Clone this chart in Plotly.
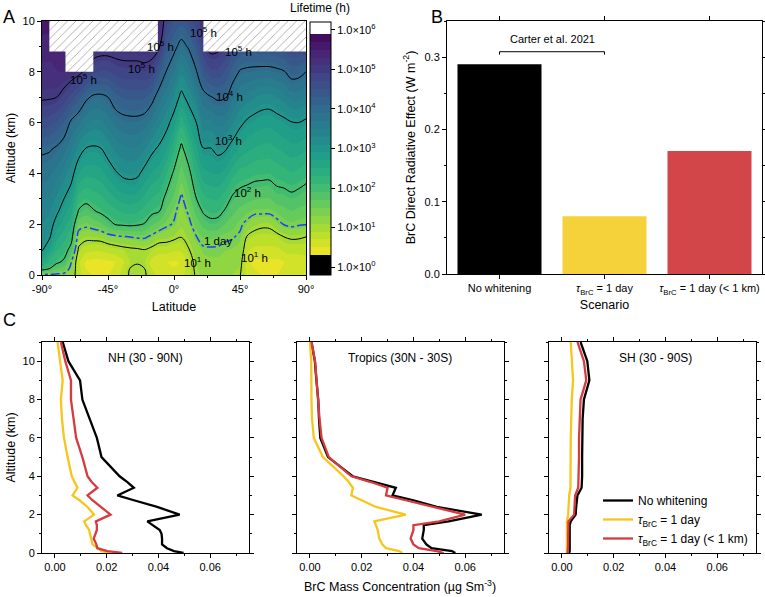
import numpy as np
import plotly.graph_objects as go

# ---------------- Panel A data: log10(lifetime, h) on a latitude/altitude grid ----------------
lat_a = [-90, -85, -80, -75, -70, -65, -60, -55, -50, -45, -40, -35, -30, -25, -20, -15, -10, -5,
         0, 5, 10, 15, 20, 25, 30, 35, 40, 45, 50, 55, 60, 65, 70, 75, 80, 85, 90]
alt_a = [0, 0.25, 0.5, 1, 1.5, 2, 2.5, 3, 4, 5, 6, 7, 8, 9, 10]
# one list per latitude column (values at alt_a)
log_lifetime_cols = [
    [1.3, 2.19, 2.56, 3.05, 3.17, 3.30, 3.42, 3.54, 3.79, 4.08, 4.62, 5.05, 5.24, 5.42, 5.6],   # -90
    [1.3, 2.0, 2.24, 2.71, 3.06, 3.19, 3.33, 3.47, 3.75, 4.05, 4.58, 5.04, 5.22, 5.41, 5.6],    # -85
    [1.3, 1.73, 2.06, 2.32, 2.58, 2.84, 3.07, 3.25, 3.61, 3.96, 4.47, 5.0, 5.28, 5.5, 5.6],     # -80
    [1.3, 1.59, 1.93, 2.18, 2.39, 2.59, 2.8, 3.0, 3.4, 3.8, 4.28, 4.83, 5.3, 5.5, 5.6],         # -75
    [1.2, 1.29, 1.38, 1.86, 2.14, 2.35, 2.55, 2.76, 3.15, 3.54, 3.92, 4.62, 5.2, 5.4, 5.5],     # -70
    [0.8, 0.77, 0.75, 0.94, 1.2, 1.55, 1.96, 2.22, 2.71, 3.21, 3.74, 4.38, 5.1, 5.3, 5.4],      # -65
    [0.55, 0.5, 0.45, 0.8, 1.09, 1.47, 1.82, 2.11, 2.56, 3.0, 3.53, 4.08, 4.92, 5.35, 5.5],     # -60
    [0.5, 0.45, 0.42, 0.75, 1.11, 1.55, 1.96, 2.18, 2.57, 2.96, 3.44, 3.93, 4.74, 5.25, 5.4],   # -55
    [0.5, 0.46, 0.42, 0.75, 1.13, 1.66, 2.06, 2.25, 2.62, 3.0, 3.45, 3.91, 4.67, 5.2, 5.4],     # -50
    [0.5, 0.47, 0.45, 0.8, 1.24, 1.87, 2.16, 2.37, 2.78, 3.18, 3.59, 4.0, 4.67, 5.2, 5.4],      # -45
    [0.55, 0.52, 0.5, 0.85, 1.3, 2.02, 2.26, 2.49, 2.95, 3.36, 3.76, 4.22, 4.78, 5.2, 5.4],     # -40
    [0.8, 0.72, 0.65, 0.9, 1.35, 2.06, 2.32, 2.58, 3.08, 3.46, 3.85, 4.32, 4.84, 5.2, 5.4],     # -35
    [1.05, 1.01, 0.9, 0.94, 1.38, 2.09, 2.35, 2.62, 3.12, 3.5, 3.88, 4.35, 4.85, 5.2, 5.4],     # -30
    [1.1, 1.05, 0.98, 0.96, 1.42, 2.05, 2.32, 2.58, 3.08, 3.48, 3.88, 4.35, 4.85, 5.2, 5.4],    # -25
    [1.05, 1.0, 0.91, 1.0, 1.43, 1.98, 2.21, 2.43, 2.87, 3.33, 3.81, 4.33, 4.89, 5.2, 5.4],     # -20
    [0.8, 0.7, 0.6, 0.91, 1.3, 1.73, 2.08, 2.28, 2.68, 3.1, 3.6, 4.13, 4.8, 5.2, 5.3],          # -15
    [0.6, 0.55, 0.5, 0.81, 1.17, 1.59, 2.0, 2.19, 2.57, 2.94, 3.36, 3.79, 4.36, 5.03, 5.3],     # -10
    [0.6, 0.55, 0.5, 0.81, 1.14, 1.44, 1.66, 1.87, 2.29, 2.71, 3.13, 3.55, 3.97, 4.39, 4.8],    # -5
    [0.55, 0.51, 0.47, 0.74, 1.08, 1.35, 1.45, 1.65, 1.93, 2.35, 2.81, 3.26, 3.7, 4.12, 4.5],   # 0
    [0.6, 0.56, 0.52, 0.74, 1.01, 1.14, 1.22, 1.32, 1.61, 1.92, 2.38, 2.88, 3.37, 3.85, 4.4],   # 5
    [0.85, 0.82, 0.8, 0.98, 1.13, 1.28, 1.43, 1.58, 1.88, 2.26, 2.7, 3.14, 3.59, 4.05, 4.6],    # 10
    [1.03, 1.07, 1.11, 1.2, 1.36, 1.57, 1.77, 1.98, 2.32, 2.65, 2.98, 3.44, 3.95, 4.38, 4.8],   # 15
    [1.15, 1.2, 1.24, 1.33, 1.51, 1.78, 2.04, 2.23, 2.62, 3.0, 3.43, 3.85, 4.4, 4.9, 5.0],      # 20
    [1.2, 1.23, 1.27, 1.34, 1.53, 1.89, 2.13, 2.31, 2.69, 3.0, 3.45, 3.98, 4.63, 5.15, 5.2],    # 25
    [1.2, 1.23, 1.27, 1.34, 1.5, 1.86, 2.12, 2.31, 2.71, 3.12, 3.58, 4.06, 4.65, 5.1, 5.15],    # 30
    [1.15, 1.19, 1.23, 1.31, 1.43, 1.69, 1.95, 2.17, 2.61, 3.05, 3.54, 4.03, 4.49, 4.9, 5.0],   # 35
    [1.1, 1.15, 1.2, 1.29, 1.4, 1.58, 1.75, 1.93, 2.38, 2.86, 3.3, 3.74, 4.2, 4.65, 4.7],       # 40
    [1.02, 1.08, 1.14, 1.25, 1.33, 1.44, 1.63, 1.83, 2.23, 2.66, 3.09, 3.52, 3.96, 4.5, 4.6],   # 45
    [0.6, 0.58, 0.55, 0.75, 0.96, 1.28, 1.54, 1.77, 2.19, 2.56, 2.93, 3.41, 3.91, 4.45, 4.5],   # 50
    [0.55, 0.5, 0.45, 0.65, 0.86, 1.14, 1.45, 1.72, 2.13, 2.49, 2.84, 3.31, 3.89, 4.45, 4.5],   # 55
    [0.5, 0.47, 0.45, 0.65, 0.84, 1.07, 1.46, 1.69, 2.12, 2.45, 2.78, 3.23, 3.87, 4.5, 4.55],   # 60
    [0.5, 0.47, 0.45, 0.65, 0.84, 1.08, 1.45, 1.69, 2.11, 2.44, 2.77, 3.21, 3.87, 4.5, 4.55],   # 65
    [0.5, 0.47, 0.45, 0.65, 0.88, 1.26, 1.53, 1.83, 2.17, 2.5, 2.83, 3.3, 3.91, 4.55, 4.6],     # 70
    [0.55, 0.52, 0.5, 0.75, 1.0, 1.4, 1.62, 1.84, 2.22, 2.56, 2.9, 3.4, 3.97, 4.6, 4.65],       # 75
    [0.6, 0.57, 0.55, 0.79, 1.05, 1.46, 1.69, 1.9, 2.28, 2.63, 2.98, 3.56, 4.17, 4.75, 4.8],    # 80
    [0.6, 0.57, 0.55, 0.79, 1.04, 1.42, 1.64, 1.85, 2.23, 2.62, 3.0, 3.56, 4.14, 4.75, 4.8],    # 85
    [0.65, 0.62, 0.6, 0.8, 1.0, 1.4, 1.59, 1.78, 2.15, 2.54, 2.92, 3.44, 4.0, 4.75, 4.8],       # 90
]
# regions above the model top (hatched)
hatch1_lat = [-85, -85, -74, -74, -55, -55, -11, -11]
hatch1_alt = [10, 8.8, 8.8, 8.0, 8.0, 8.8, 8.8, 10]
hatch2_lat = [20, 20, 90, 90]
hatch2_alt = [10, 8.8, 8.8, 10]
# contour labels
clab_text = ["10<sup>5</sup> h", "10<sup>5</sup> h", "10<sup>5</sup> h", "10<sup>5</sup> h", "10<sup>5</sup> h",
             "10<sup>4</sup> h", "10<sup>3</sup> h", "10<sup>2</sup> h", "1 day", "10<sup>1</sup> h", "10<sup>1</sup> h"]
clab_lat = [-62, -22, -9, 20, 44, 38, 37, 50, 30, 16, 55]
clab_alt = [7.7, 8.15, 9.0, 9.55, 8.8, 7.05, 5.3, 3.25, 1.35, 0.5, 0.7]
cbar_tickvals = [0, 1, 2, 3, 4, 5, 6]
cbar_ticktext = ["1.0×10<sup>%d</sup>" % k for k in cbar_tickvals]

# ---------------- Panel B data ----------------
scenarios = ["No whitening", "<i>τ</i><sub>BrC</sub> = 1 day", "<i>τ</i><sub>BrC</sub> = 1 day (&lt; 1 km)"]
dre = [0.29, 0.08, 0.17]

# ---------------- Panel C data ----------------
alt_c = [0, 0.1, 0.25, 0.45, 0.75, 1.0, 1.2, 1.45, 1.65, 2.0, 2.4, 2.75, 3.0, 3.4, 3.7, 4.0,
         5.0, 6.0, 7.0, 8.0, 9.0, 10.0, 11.0]
nh_black = [0.0497, 0.046, 0.0433, 0.0414, 0.0414, 0.0412, 0.0405, 0.038, 0.0357, 0.0482, 0.0395, 0.0305,
            0.0241, 0.0305, 0.028, 0.025, 0.018, 0.0162, 0.0135, 0.0106, 0.0097, 0.0052, 0.003]
nh_yellow = [0.0215, 0.018, 0.0165, 0.0145, 0.014, 0.0135, 0.0132, 0.012, 0.0113, 0.0151, 0.0126, 0.0095,
             0.0068, 0.0087, 0.0075, 0.0065, 0.0049, 0.0035, 0.0027, 0.0023, 0.003, 0.002, 0.001]
nh_red = [0.026, 0.0203, 0.0164, 0.016, 0.015, 0.0158, 0.0162, 0.0162, 0.0158, 0.0215, 0.0177, 0.0145,
          0.0126, 0.0164, 0.0142, 0.0126, 0.0106, 0.0082, 0.0072, 0.0062, 0.0062, 0.004, 0.0023]
tr_black = [0.0562, 0.0549, 0.047, 0.045, 0.0434, 0.0437, 0.044, 0.044, 0.0536, 0.0664, 0.049, 0.04,
            0.0319, 0.0332, 0.0245, 0.0165, 0.007, 0.004, 0.0035, 0.0032, 0.0025, 0.0019, 0.0006]
tr_yellow = [0.0357, 0.0345, 0.0294, 0.028, 0.0268, 0.0265, 0.0262, 0.0255, 0.0249, 0.037, 0.0255, 0.02,
             0.016, 0.0166, 0.015, 0.013, 0.005, 0.0015, 0.0008, 0.0006, 0.0006, 0.0005, 0.0]
tr_red = [0.0517, 0.049, 0.0421, 0.04, 0.0389, 0.0395, 0.04, 0.04, 0.05, 0.06, 0.0472, 0.037,
          0.0294, 0.03, 0.0235, 0.016, 0.0073, 0.0045, 0.0037, 0.0032, 0.0026, 0.002, 0.0006]
sh_black = [0.0028, 0.003, 0.003, 0.003, 0.003, 0.003, 0.003, 0.003, 0.0034, 0.0053, 0.0055, 0.0058,
            0.006, 0.0076, 0.0077, 0.0078, 0.0078, 0.0078, 0.008, 0.0085, 0.0106, 0.0098, 0.0072]
sh_yellow = [0.0019, 0.0019, 0.0019, 0.0019, 0.0019, 0.0019, 0.0019, 0.0019, 0.0019, 0.0024, 0.0025, 0.0026,
             0.0028, 0.0033, 0.0033, 0.0034, 0.0034, 0.0034, 0.0036, 0.0038, 0.0043, 0.0039, 0.0034]
sh_red = [0.0022, 0.0023, 0.0024, 0.0024, 0.0024, 0.0024, 0.0024, 0.0024, 0.0025, 0.0047, 0.0048, 0.005,
          0.0051, 0.0063, 0.0064, 0.0065, 0.0066, 0.0066, 0.0068, 0.0072, 0.0094, 0.0085, 0.006]
region_titles = ["NH (30 - 90N)", "Tropics (30N - 30S)", "SH (30 - 90S)"]
series_names = ["No whitening", "<i>τ</i><sub>BrC</sub> = 1 day", "<i>τ</i><sub>BrC</sub> = 1 day (&lt; 1 km)"]

# ---------------- styling ----------------
W, H = 765, 597
FONT = "Arial, Liberation Sans, sans-serif"
BAR_COLORS = ["#000000", "#F6D23A", "#D2464A"]
LINE_COLORS = ["#000000", "#F8C51E", "#D63B3F"]
TICK_SIZE = 11
TITLE_SIZE = 12.5


def px_x(p):
    return p / W


def px_y(p):
    return 1 - p / H


viridis = ['#440154', '#482878', '#3e4989', '#31688e', '#26828e', '#1f9e89',
           '#35b779', '#6ece58', '#b5de2b', '#fde725']
ZMIN, ZMAX = -0.2, 6.2
lo = (0.22 - ZMIN) / (ZMAX - ZMIN)
hi = (6.0 - ZMIN) / (ZMAX - ZMIN)
cscale = [[0, "black"], [lo, "black"]]
vr = viridis[::-1]
for i, c in enumerate(vr):
    cscale.append([lo + (hi - lo) * i / (len(vr) - 1), c])
cscale += [[hi, "white"], [1, "white"]]

fig = go.Figure()

# Panel A
zA = np.array(log_lifetime_cols).T
fig.add_trace(go.Contour(
    x=lat_a, y=alt_a, z=zA, xaxis="x", yaxis="y", showlegend=False,
    colorscale=cscale, zmin=ZMIN, zmax=ZMAX, zauto=False,
    contours=dict(coloring="fill", start=-0.1, end=6.1, size=0.2, showlines=False),
    line=dict(width=0), hoverinfo="skip",
    colorbar=dict(x=px_x(310), xanchor="left", xpad=0, ypad=0,
                  y=px_y(22), yanchor="top", len=253, lenmode="pixels",
                  thickness=21, outlinewidth=1, outlinecolor="black",
                  tickvals=cbar_tickvals, ticktext=cbar_ticktext, ticks="outside",
                  ticklen=4, tickcolor="black",
                  tickfont=dict(size=TICK_SIZE, family=FONT, color="black")),
))
fig.add_trace(go.Contour(
    x=lat_a, y=alt_a, z=zA, xaxis="x", yaxis="y", showscale=False, showlegend=False,
    contours=dict(coloring="none", start=1, end=5, size=1),
    line=dict(color="black", width=1, smoothing=1), hoverinfo="skip",
))
day = float(np.log10(24))
fig.add_trace(go.Contour(
    x=lat_a, y=alt_a, z=zA, xaxis="x", yaxis="y", showscale=False, showlegend=False,
    contours=dict(coloring="none", start=day, end=day, size=1),
    line=dict(color="#1E3CFF", width=1.5, dash="dashdot", smoothing=1), hoverinfo="skip",
))
for hx, hy in [(hatch1_lat, hatch1_alt), (hatch2_lat, hatch2_alt)]:
    fig.add_trace(go.Scatter(
        x=hx, y=hy, xaxis="x", yaxis="y", mode="lines", fill="toself",
        line=dict(width=0), fillcolor="white",
        fillpattern=dict(shape="/", fgcolor="#555555", bgcolor="white", size=6, solidity=0.15),
        showlegend=False, hoverinfo="skip"))

for t, la, al in zip(clab_text, clab_lat, clab_alt):
    fig.add_annotation(x=la, y=al, xref="x", yref="y", text=t, showarrow=False,
                       xanchor="center", yanchor="middle",
                       font=dict(size=11.5, family=FONT, color="black"))

# Panel B
fig.add_trace(go.Bar(x=[0, 1, 2], y=dre, marker=dict(color=BAR_COLORS, line=dict(width=0)),
                     width=0.8, xaxis="x2", yaxis="y2", showlegend=False, hoverinfo="skip"))
fig.add_shape(type="path", xref="x2", yref="y2",
              path="M 0,0.3035 L 0,0.3075 L 1,0.3075 L 1,0.3035", line=dict(color="black", width=1))
fig.add_annotation(x=0.5, y=0.3245, xref="x2", yref="y2", text="Carter et al. 2021", showarrow=False,
                   xanchor="center", yanchor="middle",
                   font=dict(size=TICK_SIZE, family=FONT, color="black"))

# Panel C
profiles = [
    (nh_black, nh_yellow, nh_red),
    (tr_black, tr_yellow, tr_red),
    (sh_black, sh_yellow, sh_red),
]
for k, prof in enumerate(profiles):
    xa = "x%d" % (k + 3)
    ya = "y%d" % (k + 3)
    for j, vals in enumerate(prof):
        fig.add_trace(go.Scatter(
            x=vals, y=alt_c, xaxis=xa, yaxis=ya, mode="lines",
            line=dict(color=LINE_COLORS[j], width=2.3),
            name=series_names[j], showlegend=(k == 2), hoverinfo="skip"))

cx_domains = [(42, 249), (297, 504), (549, 756)]
title_centers = [145, 400, 655]
for k in range(3):
    fig.add_annotation(x=px_x(title_centers[k]), y=px_y(358), xref="paper", yref="paper",
                       text=region_titles[k], showarrow=False, xanchor="center", yanchor="middle",
                       font=dict(size=12, family=FONT, color="black"))

axis_common = dict(showline=True, linecolor="black", linewidth=1, mirror="allticks",
                   ticks="outside", ticklen=4, tickcolor="black", zeroline=False, showgrid=False,
                   automargin=False,
                   tickfont=dict(size=TICK_SIZE, family=FONT, color="black"))

layout = dict(
    width=W, height=H, margin=dict(l=0, r=0, t=0, b=0, autoexpand=False),
    paper_bgcolor="white", plot_bgcolor="white",
    font=dict(family=FONT, color="black"),
    xaxis=dict(domain=[px_x(42), px_x(306)], range=[-90, 90], anchor="y",
               tickvals=[-90, -45, 0, 45, 90], ticktext=["-90°", "-45°", "0°", "45°", "90°"],
               minor=dict(dtick=22.5, tick0=-90, ticks="outside", ticklen=2, tickcolor="black"),
               title=dict(text="Latitude", font=dict(size=TITLE_SIZE, family=FONT), standoff=8),
               **{**axis_common, "mirror": True}),
    yaxis=dict(domain=[px_y(275), px_y(21)], range=[0, 10], anchor="x",
               tickvals=[0, 2, 4, 6, 8, 10],
               minor=dict(dtick=1, ticks="outside", ticklen=2, tickcolor="black"),
               title=dict(text="Altitude (km)", font=dict(size=TITLE_SIZE, family=FONT), standoff=4),
               **{**axis_common, "mirror": True}),
    xaxis2=dict(domain=[px_x(447), px_x(762)], range=[-0.5, 2.5], anchor="y2",
                tickvals=[0, 1, 2], ticktext=scenarios,
                title=dict(text="Scenario", font=dict(size=TITLE_SIZE, family=FONT), standoff=4),
                **axis_common),
    yaxis2=dict(domain=[px_y(274), px_y(21)], range=[0, 0.35], anchor="x2",
                tickvals=[0, 0.1, 0.2, 0.3], tickformat=".1f",
                minor=dict(dtick=0.05, ticks="outside", ticklen=2, tickcolor="black"),
                title=dict(text="BrC Direct Radiative Effect (W m<sup>-2</sup>)",
                           font=dict(size=TITLE_SIZE, family=FONT), standoff=6),
                **axis_common),
    legend=dict(x=px_x(598), y=px_y(486), xanchor="left", yanchor="top",
                bgcolor="rgba(0,0,0,0)", font=dict(size=12, family=FONT, color="black"),
                itemwidth=30, tracegroupgap=0),
)
for k, (x0, x1) in enumerate(cx_domains):
    n = k + 3
    layout["xaxis%d" % n] = dict(domain=[px_x(x0), px_x(x1)], range=[-0.005, 0.075], anchor="y%d" % n,
                                 tickvals=[0, 0.02, 0.04, 0.06], tickformat=".2f",
                                 minor=dict(dtick=0.01, tick0=0, ticks="outside", ticklen=2, tickcolor="black"),
                                 **axis_common)
    layout["yaxis%d" % n] = dict(domain=[px_y(553), px_y(342)], range=[0, 11], anchor="x%d" % n,
                                 tickvals=[0, 2, 4, 6, 8, 10], showticklabels=(k == 0),
                                 minor=dict(dtick=1, ticks="outside", ticklen=2, tickcolor="black"),
                                 **axis_common)
layout["yaxis3"]["title"] = dict(text="Altitude (km)", font=dict(size=TITLE_SIZE, family=FONT), standoff=4)
fig.update_layout(**layout)

# titles / panel letters
fig.add_annotation(x=px_x(400), y=px_y(586), xref="paper", yref="paper", showarrow=False,
                   xanchor="center", yanchor="middle",
                   text="BrC Mass Concentration (µg Sm<sup>-3</sup>)", font=dict(size=TITLE_SIZE, family=FONT))
fig.add_annotation(x=px_x(320), y=px_y(8), xref="paper", yref="paper", showarrow=False,
                   xanchor="center", yanchor="middle",
                   text="Lifetime (h)", font=dict(size=12, family=FONT))
for letter, xp, yp in [("A", 9, 17), ("B", 437, 17), ("C", 9, 320)]:
    fig.add_annotation(x=px_x(xp), y=px_y(yp), xref="paper", yref="paper", showarrow=False,
                       xanchor="center", yanchor="middle",
                       text=letter, font=dict(size=18, family=FONT))

# remove the default page margin so the figure sits at the window's top-left corner
fig.write_html("out.html", config={"displayModeBar": False},
               post_script="document.body.style.margin='0px';")
